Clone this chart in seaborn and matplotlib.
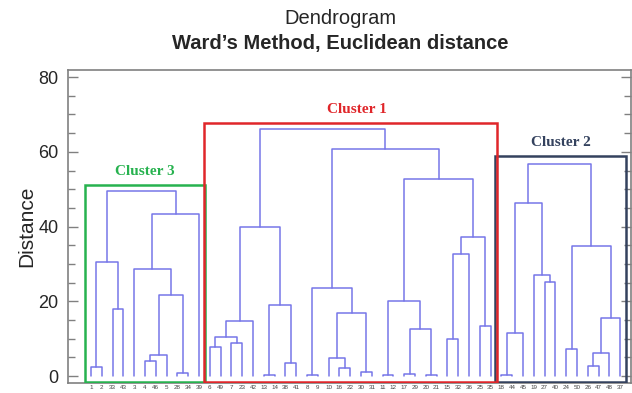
import pandas as pd
import matplotlib
matplotlib.use("Agg")
import matplotlib.pyplot as plt
from matplotlib.patches import Rectangle
from matplotlib.ticker import MultipleLocator
import seaborn as sns

# leaf order along the x axis
leaf_labels = ["1", "2", "33", "43", "3", "4", "46", "5", "28", "34", "39",
               "6", "49", "7", "23", "42", "13", "14", "38", "41", "8", "9", "10", "16", "22", "30", "31",
               "11", "12", "17", "29", "20", "21", "15", "32", "36", "25", "35",
               "18", "44", "45", "19", "27", "40", "24", "50", "26", "47", "48", "37"]

# merges (Ward linkage): left node, right node, distance. merge k is called "m<k>"
link_left = ["1", "33", "m0", "4", "m3", "28", "m4", "3", "m7", "m2",
             "6", "7", "m10", "m12", "13", "38", "m14", "m13", "8", "16", "10", "30", "m20", "m18",
             "11", "17", "20", "m25", "m24", "15", "m29", "25", "m30", "m28", "m23", "m17",
             "18", "m36", "27", "19", "m37", "24", "26", "m42", "m43", "m41", "m40"]
link_right = ["2", "43", "m1", "46", "5", "34", "m5", "m6", "39", "m8",
              "49", "23", "m11", "42", "14", "41", "m15", "m16", "9", "22", "m19", "31", "m21", "m22",
              "12", "29", "21", "m26", "m27", "32", "36", "35", "m31", "m32", "m33", "m34",
              "44", "45", "40", "m38", "m39", "50", "47", "48", "37", "m44", "m45"]
link_height = [2.4, 18.0, 30.5, 4.0, 5.6, 0.8, 21.7, 28.6, 43.3, 49.5,
               7.8, 8.8, 10.5, 14.6, 0.3, 3.4, 19.0, 39.9, 0.3, 2.1, 4.8, 1.0, 16.8, 23.5,
               0.3, 0.5, 0.3, 12.6, 20.1, 9.9, 32.6, 13.4, 37.1, 52.7, 60.7, 66.0,
               0.3, 11.5, 25.1, 27.0, 46.2, 7.2, 2.7, 6.2, 15.6, 34.8, 56.7]

# clusters: name, first leaf, last leaf, cut height
cluster_names = ["Cluster 3", "Cluster 1", "Cluster 2"]
cluster_first = ["1", "6", "18"]
cluster_last = ["39", "35", "37"]
cluster_cut = [51.1, 67.6, 58.8]
cluster_colors = ["#27b24f", "#e0262a", "#34425e"]

# build U shaped links
pos = {lab: i for i, lab in enumerate(leaf_labels)}
hgt = {lab: 0.0 for lab in leaf_labels}
rows = []
for k, (l, r, h) in enumerate(zip(link_left, link_right, link_height)):
    name = f"m{k}"
    for x, y in [(pos[l], hgt[l]), (pos[l], h), (pos[r], h), (pos[r], hgt[r])]:
        rows.append({"link": name, "x": x, "y": y})
    pos[name] = (pos[l] + pos[r]) / 2
    hgt[name] = h
links = pd.DataFrame(rows)

sns.set_style("white")
plt.rcParams["font.family"] = ["Liberation Sans", "DejaVu Sans"]

fig = plt.figure(figsize=(6.32, 3.93), dpi=100)
ax = fig.add_axes([68 / 632, 1 - 383 / 393, 563 / 632, 313 / 393])

sns.lineplot(data=links, x="x", y="y", units="link", estimator=None, sort=False,
             color="#7676e8", linewidth=1.1, ax=ax, legend=False)

# cluster boxes, red drawn last so it sits on top
for i in [2, 0, 1]:
    x0 = pos[cluster_first[i]] - 0.55
    x1 = pos[cluster_last[i]] + 0.55
    ax.add_patch(Rectangle((x0, -1.5), x1 - x0, cluster_cut[i] + 1.5, fill=False,
                           edgecolor=cluster_colors[i], linewidth=1.8, zorder=3))
    nudge = 5 if cluster_names[i] == "Cluster 1" else 0
    ax.annotate(cluster_names[i], ((x0 + x1) / 2, cluster_cut[i]), xytext=(nudge, 10),
                textcoords="offset points", ha="center", va="center",
                fontsize=11, fontweight="bold", family="Liberation Serif",
                color=cluster_colors[i])

ax.set_xlim(-2.13, 50.0)
ax.set_ylim(-1.87, 81.9)
ax.set_xticks(range(len(leaf_labels)))
ax.set_xticklabels(leaf_labels, fontsize=4.5, color="#444444")
ax.tick_params(axis="x", length=0, pad=1.5)
ax.set_yticks([0, 20, 40, 60, 80])
ax.yaxis.set_minor_locator(MultipleLocator(5))
ax.tick_params(axis="y", which="both", direction="in", left=True, right=True,
               color="#808080", labelsize=13, pad=7)
ax.tick_params(axis="y", which="major", length=7, width=1)
ax.tick_params(axis="y", which="minor", length=5, width=1)
ax.set_xlabel("")
ax.set_ylabel("Distance", fontsize=15, labelpad=1)
for s in ax.spines.values():
    s.set_color("#808080")
    s.set_linewidth(1.2)

fig.text(0.539, 1 - 18 / 393, "Dendrogram", ha="center", va="center", fontsize=14.5)
fig.text(0.539, 1 - 44 / 393, "Ward\u2019s Method, Euclidean distance", ha="center",
         va="center", fontsize=14.5, fontweight="bold")

fig.savefig("out.png", dpi=100)
